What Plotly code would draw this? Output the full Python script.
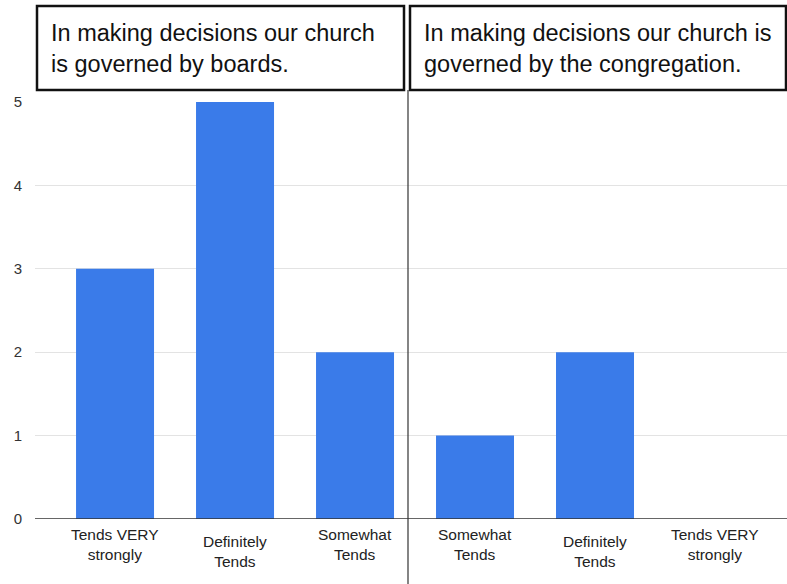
import plotly.graph_objects as go

categories = ["Tends VERY<br>strongly", "Definitely<br>Tends", "Somewhat<br>Tends",
              "Somewhat<br>Tends", "Definitely<br>Tends", "Tends VERY<br>strongly"]
values = [3, 5, 2, 1, 2, 0]
label_center_y = [544, 551, 544, 544, 551, 544]
panel_titles = ["In making decisions our church<br>is governed by boards.",
                "In making decisions our church is<br>governed by the congregation."]
y_ticks = [0, 1, 2, 3, 4, 5]

W, H = 787, 584
L, R, T, B = 35, 0, 102, 65
pw = W - L - R
ph = H - T - B
xs = list(range(len(categories)))

def px2paper_x(px):
    return (px - L) / pw

def px2paper_y(py):
    return (H - B - py) / ph

fig = go.Figure()
fig.add_trace(go.Bar(x=xs, y=values, width=0.65, marker=dict(color="#3a7be9", line=dict(width=0)),
                     hoverinfo="skip"))

font = "Liberation Sans, Arial, sans-serif"
annotations = []
for x, lab, py in zip(xs, categories, label_center_y):
    annotations.append(dict(x=x, y=px2paper_y(py), xref="x", yref="paper", text=lab,
                            showarrow=False, xanchor="center", yanchor="middle", align="center",
                            font=dict(family=font, size=15.5, color="#222222")))

boxes = [(37, 404), (410, 786)]
shapes = []
for (x0, x1), title in zip(boxes, panel_titles):
    shapes.append(dict(type="rect", xref="paper", yref="paper",
                       x0=px2paper_x(x0), x1=px2paper_x(x1), y0=px2paper_y(90), y1=px2paper_y(6),
                       line=dict(color="#111111", width=2.5), fillcolor="white", layer="above"))
    annotations.append(dict(x=px2paper_x(x0 + 12), y=px2paper_y(49), xref="paper", yref="paper",
                            text=title, showarrow=False, xanchor="left", yanchor="middle", align="left",
                            font=dict(family=font, size=23.5, color="#111111")))

shapes.append(dict(type="line", xref="paper", yref="paper",
                   x0=px2paper_x(408), x1=px2paper_x(408), y0=px2paper_y(584), y1=px2paper_y(90),
                   line=dict(color="#333333", width=1.2)))
shapes.append(dict(type="line", xref="paper", yref="y", x0=0, x1=1, y0=0, y1=0,
                   line=dict(color="#333333", width=1.5)))

fig.update_layout(
    width=W, height=H, margin=dict(l=L, r=R, t=T, b=B),
    paper_bgcolor="white", plot_bgcolor="white", showlegend=False,
    xaxis=dict(range=[-0.667, 5.6], showticklabels=False, showgrid=False, zeroline=False, fixedrange=True),
    yaxis=dict(range=[0, 5], tickvals=y_ticks, showgrid=True, gridcolor="#e3e3e3", gridwidth=1,
               zeroline=False, tickfont=dict(family=font, size=15, color="#333333"),
               ticks="", ticklabelstandoff=12),
    shapes=shapes, annotations=annotations,
)
fig.write_html("out.html")
